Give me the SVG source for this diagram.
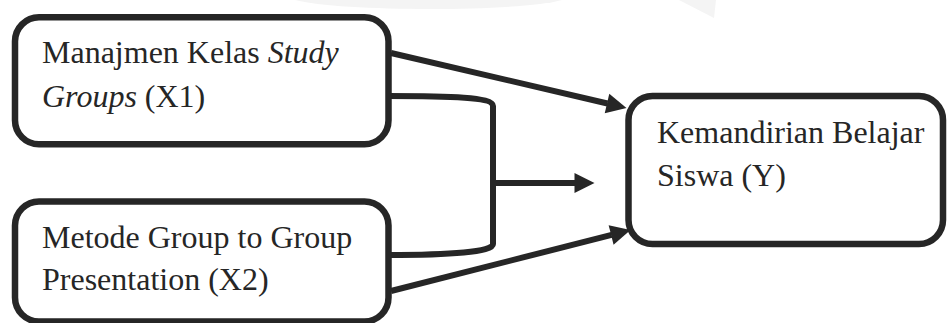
<svg xmlns="http://www.w3.org/2000/svg" width="947" height="323" viewBox="0 0 947 323">
  <defs>
    <style>
      .box { fill: #ffffff; stroke: #262626; stroke-width: 6.5; }
      .lbl { font-size: 32px; fill: #262626; }
      .it { font-style: italic; }
      .conn { fill: none; stroke: #262626; stroke-width: 6; }
      .wm { fill: #f4f4f4; stroke: none; }
    </style>
    <marker id="arrow" viewBox="0 0 20 20" refX="0.5" refY="10" markerWidth="20" markerHeight="20" markerUnits="userSpaceOnUse" orient="auto" overflow="visible">
      <path d="M0,0 L20,10 L0,20 Z" fill="#262626"/>
    </marker>
  </defs>
  <rect width="947" height="323" fill="#ffffff"/>

  <g id="watermark">
    <path class="wm" d="M295,0 L562,0 C520,12 340,12 295,0 Z"/>
    <path class="wm" d="M679,0 L716,0 L714,18 Z"/>
  </g>

  <g id="connectors">
    <line class="conn" x1="391" y1="53" x2="607.5" y2="103.5" marker-end="url(#arrow)"/>
    <path class="conn" d="M388,96 C450,96 493,97 493,106 L493,244 C493,252 450,255 388,255"/>
    <line class="conn" x1="493" y1="183" x2="575" y2="183" marker-end="url(#arrow)"/>
    <line class="conn" x1="391" y1="291" x2="611.6" y2="234.9" marker-end="url(#arrow)"/>
  </g>

  <g font-family="Liberation Serif, Times New Roman, Times, serif">
    <g id="node-x1">
      <rect class="box" x="15" y="17.3" width="373.5" height="127" rx="24" ry="24"/>
      <text class="lbl" x="42" y="63">Manajmen Kelas <tspan class="it">Study</tspan></text>
      <text class="lbl" x="42" y="107"><tspan class="it">Groups</tspan> (X1)</text>
    </g>

    <g id="node-x2">
      <rect class="box" x="15" y="201.5" width="373.5" height="120" rx="24" ry="24"/>
      <text class="lbl" x="42" y="248">Metode Group to Group</text>
      <text class="lbl" x="42" y="290">Presentation (X2)</text>
    </g>

    <g id="node-y">
      <rect class="box" x="628.5" y="96" width="314.5" height="148" rx="24" ry="24"/>
      <text class="lbl" x="657" y="143">Kemandirian Belajar</text>
      <text class="lbl" x="657" y="186">Siswa (Y)</text>
    </g>
  </g>
</svg>
